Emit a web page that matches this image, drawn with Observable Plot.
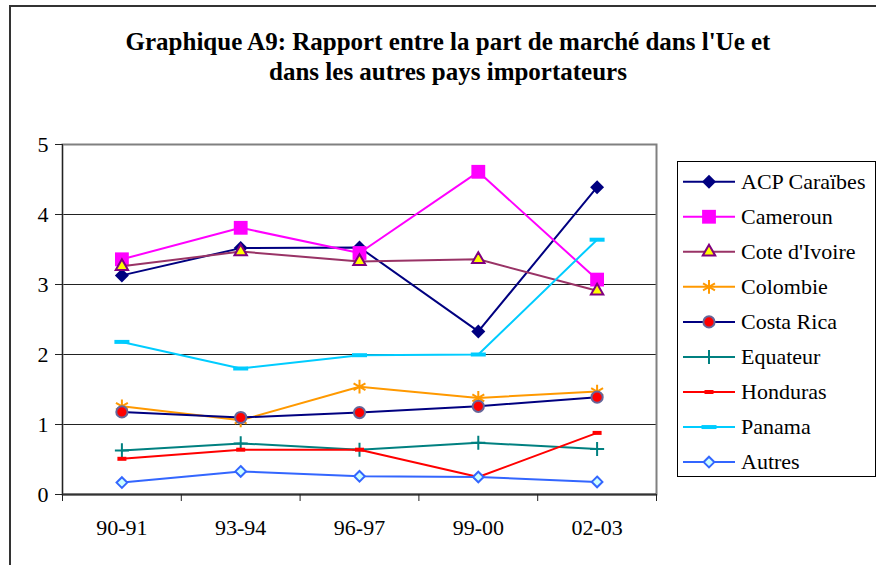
<!DOCTYPE html>
<html><head><meta charset="utf-8">
<script src="https://cdn.jsdelivr.net/npm/d3@7"></script>
<script src="https://cdn.jsdelivr.net/npm/@observablehq/plot@0.6"></script>
<style>
html,body{margin:0;padding:0;background:#fff;}
#wrap{position:relative;width:876px;height:565px;overflow:hidden;font-family:'Liberation Serif','Nimbus Roman','Noto Serif','FreeSerif','Times','DejaVu Serif',serif;}
#chart{position:absolute;left:0;top:0;}
#frame{position:absolute;left:9px;top:5px;width:900px;height:620px;border:2px solid #333;box-sizing:border-box;background:transparent;}
#title{position:absolute;left:0;top:27px;width:896px;text-align:center;font-weight:bold;font-size:25px;line-height:30px;color:#000;}
#legend{position:absolute;left:677px;top:161px;}
#legend text, #chart text{font-family:inherit;}
</style></head>
<body>
<div id="wrap">
  <div id="chart"></div>
  <div id="frame"></div>
  <div id="title">Graphique A9: Rapport entre la part de marché dans l'Ue et<br>dans les autres pays importateurs</div>
  <div id="legend"></div>
</div>
<script>
const periods = ["90-91","93-94","96-97","99-00","02-03"];
const seriesNames = ["ACP Caraïbes","Cameroun","Cote d'Ivoire","Colombie","Costa Rica","Equateur","Honduras","Panama","Autres"];
const acpCaraibes = [3.13, 3.52, 3.53, 2.33, 4.39];
const cameroun    = [3.36, 3.81, 3.45, 4.61, 3.07];
const coteDIvoire = [3.26, 3.47, 3.33, 3.36, 2.91];
const colombie    = [1.26, 1.06, 1.54, 1.38, 1.47];
const costaRica   = [1.18, 1.10, 1.17, 1.26, 1.39];
const equateur    = [0.63, 0.73, 0.64, 0.74, 0.65];
const honduras    = [0.51, 0.64, 0.64, 0.25, 0.88];
const panama      = [2.18, 1.80, 1.99, 2.00, 3.64];
const autres      = [0.17, 0.33, 0.26, 0.25, 0.18];
const yTicks = [0, 1, 2, 3, 4, 5];
const seriesValues = [acpCaraibes, cameroun, coteDIvoire, colombie, costaRica, equateur, honduras, panama, autres];

function rectSym(w, h) {
  return {draw(ctx) { ctx.rect(-w / 2, -h / 2, w, h); }};
}
const styles = [
  {line:"#000080", symbol:d3.symbolDiamond2, fill:"#000080", stroke:"none", sw:0, r:6.3},
  {line:"#ff00ff", symbol:d3.symbolSquare, fill:"#ff00ff", stroke:"none", sw:0, r:7.8},
  {line:"#993366", symbol:d3.symbolTriangle, fill:"#ffff00", stroke:"#800080", sw:2, r:4.6},
  {line:"#ff9900", symbol:d3.symbolAsterisk, fill:"none", stroke:"#ff9900", sw:2, r:6.5},
  {line:"#000080", symbol:d3.symbolCircle, fill:"#ff0000", stroke:"#666699", sw:2, r:5.6},
  {line:"#008080", symbol:d3.symbolPlus, fill:"none", stroke:"#008080", sw:2, r:4.6},
  {line:"#ff0000", symbol:rectSym(9, 4), fill:"#ff0000", stroke:"none", sw:0, r:3},
  {line:"#00ccff", symbol:rectSym(15, 4), fill:"#00ccff", stroke:"none", sw:0, r:3},
  {line:"#3366ff", symbol:d3.symbolDiamond2, fill:"#ccffff", stroke:"#3366ff", sw:2, r:4.8}
];

const marks = [
  Plot.ruleY(yTicks.filter(d => d > 0 && d < 5), {stroke:"#222", strokeWidth:1}),
  Plot.frame({stroke:"#808080", strokeWidth:2}),
  Plot.ruleX([0], {stroke:"#222", strokeWidth:1}),
  Plot.ruleY([0], {stroke:"#333", strokeWidth:2}),
  Plot.axisY(yTicks, {tickSize:7, tickPadding:7, tickFormat:d => String(d), stroke:"#222", fill:"#000", label:null}),
  Plot.axisX(d3.range(periods.length + 1), {tickSize:7, tickFormat:() => "", stroke:"#222", label:null}),
  Plot.axisX(periods.map((p, i) => i + 0.5), {tickSize:0, tickPadding:25, tickFormat:v => periods[Math.floor(v)], fill:"#000", label:null})
];
seriesValues.forEach((vals, k) => {
  const rows = vals.map((v, i) => ({x: i + 0.5, y: v}));
  const s = styles[k];
  marks.push(Plot.line(rows, {x:"x", y:"y", stroke:s.line, strokeWidth:2}));
  marks.push(Plot.dot(rows, {x:"x", y:"y", symbol:s.symbol, r:s.r, fill:s.fill, stroke:s.stroke, strokeWidth:s.sw}));
});

const chart = Plot.plot({
  width: 876, height: 565,
  marginLeft: 62, marginRight: 220, marginTop: 144, marginBottom: 71,
  x: {domain:[0, periods.length]},
  y: {domain:[0, 5]},
  style: {fontFamily:"inherit", fontSize:"22px", background:"transparent", color:"#000"},
  marks
});
document.getElementById("chart").appendChild(chart);

// legend
const lw = 199, lh = 316, rowH = 35.05, row0 = 20.7;
const svg = d3.select("#legend").append("svg").attr("width", lw).attr("height", lh)
  .style("display","block");
svg.append("rect").attr("x",0.5).attr("y",0.5).attr("width",lw-1).attr("height",lh-1)
  .attr("fill","#fff").attr("stroke","#000").attr("stroke-width",1);
seriesNames.forEach((name, k) => {
  const s = styles[k];
  const y = row0 + k * rowH;
  const g = svg.append("g");
  g.append("line").attr("x1",6).attr("x2",58).attr("y1",y).attr("y2",y).attr("stroke",s.line).attr("stroke-width",2);
  g.append("path").attr("transform",`translate(32,${y})`)
    .attr("d", d3.symbol(s.symbol, Math.PI * s.r * s.r)())
    .attr("fill", s.fill).attr("stroke", s.stroke).attr("stroke-width", s.sw);
  g.append("text").attr("x",64).attr("y",y + 7).attr("font-size",22).attr("fill","#000").text(name);
});
</script>
</body></html>
